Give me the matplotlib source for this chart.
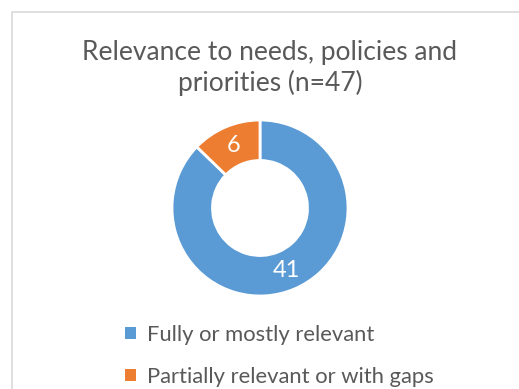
import matplotlib
matplotlib.use("Agg")
import matplotlib.pyplot as plt
from matplotlib.patches import Patch, Rectangle
import numpy as np

# data
categories = ["Fully or mostly relevant", "Partially relevant or with gaps"]
counts = [41, 6]
colors = ["#5B9BD5", "#ED7D31"]
title = "Relevance to needs, policies and\npriorities (n=47)"

plt.rcParams['font.family'] = ['Lato', 'DejaVu Sans']
text_color = "#595959"

W, H = 519, 389
fig = plt.figure(figsize=(W / 100, H / 100), dpi=100)

# chart frame (runs past right/bottom edge like the crop)
fig.patches.append(Rectangle((12 / W, -0.05), 1.1, (H - 12) / H + 0.05,
                             transform=fig.transFigure, fill=False,
                             edgecolor="#D9D9D9", linewidth=1.2))

fig.text(270 / W, 1 - 68 / H, title, ha="center", va="center",
         fontsize=19, color=text_color, linespacing=1.2)

cx, cy, r = 260, 208, 88
ax = fig.add_axes([(cx - r) / W, (H - cy - r) / H, 2 * r / W, 2 * r / H])
wedges, _ = ax.pie(counts, colors=colors, startangle=90, counterclock=False,
                   radius=1.0, wedgeprops=dict(width=0.46, edgecolor="white", linewidth=2))
ax.set_aspect("equal")
ax.set_xlim(-1, 1)
ax.set_ylim(-1, 1)

# value labels in the middle of the ring
total = sum(counts)
start = 90.0
for v in counts:
    ang = np.deg2rad(start - v / total * 360 / 2)
    start -= v / total * 360
    ax.text(0.77 * np.cos(ang), 0.77 * np.sin(ang), str(v), ha="center", va="center",
            fontsize=17, color="white")

handles = [Patch(facecolor=c, edgecolor="none") for c in colors]
fig.legend(handles, categories, loc="center left", bbox_to_anchor=(125 / W, 1 - 356 / H),
           frameon=False, fontsize=15.8, labelcolor=text_color,
           handlelength=0.5, handleheight=0.5, handletextpad=0.5, labelspacing=1.0,
           borderaxespad=0, borderpad=0)

fig.savefig("out.png", dpi=100)
